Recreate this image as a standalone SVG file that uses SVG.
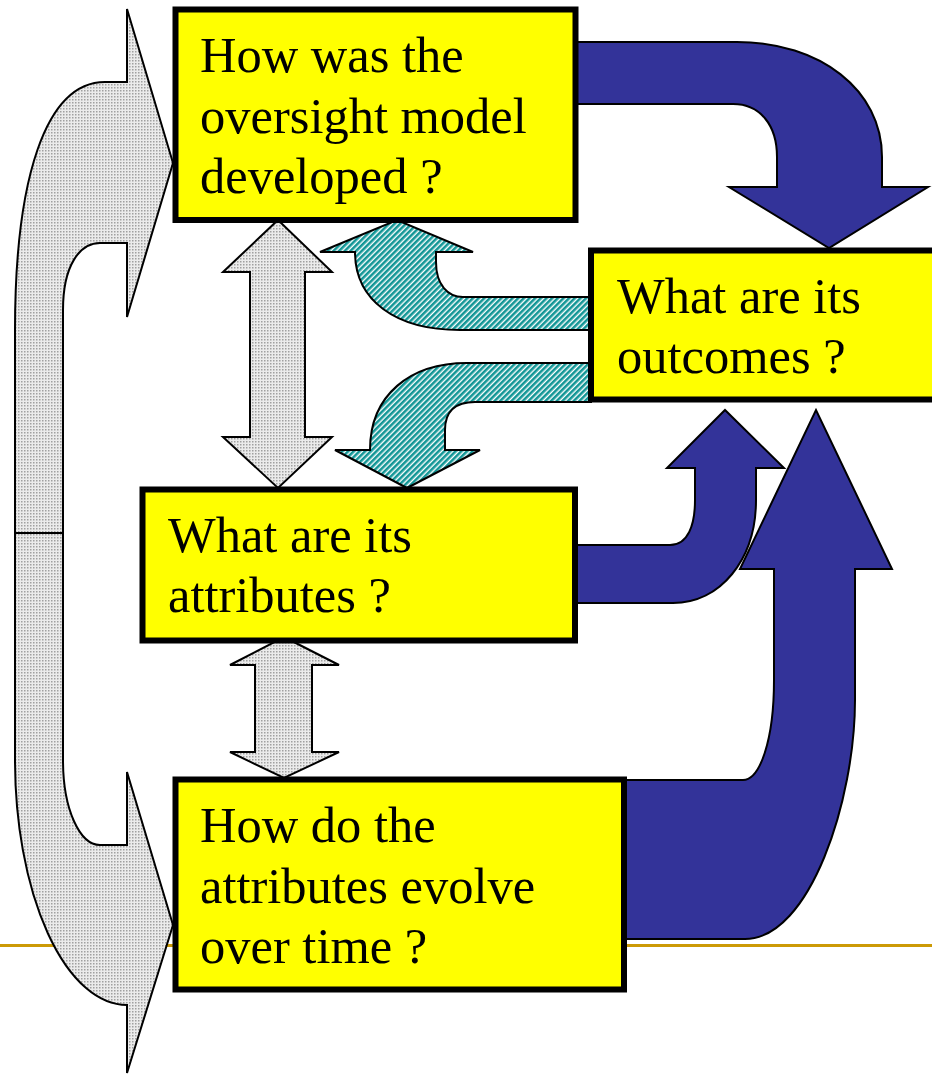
<svg xmlns="http://www.w3.org/2000/svg" width="932" height="1075" viewBox="0 0 932 1075">
  <defs>
    <pattern id="dots" width="3" height="3" patternUnits="userSpaceOnUse">
      <rect width="3" height="3" fill="#ebebeb"/>
      <rect width="1.5" height="1.5" fill="#a0a0a0"/>
    </pattern>
    <pattern id="hatch" width="4" height="4" patternUnits="userSpaceOnUse" patternTransform="rotate(45)">
      <rect width="4" height="4" fill="#ffffff"/>
      <rect width="2.6" height="4" fill="#129696"/>
    </pattern>
    <style>
      .box { fill: #ffff00; stroke: #000000; stroke-width: 6; }
      .lbl { font-family: "Liberation Serif", "Times New Roman", serif; font-size: 50.5px; fill: #000000; }
      .gray { fill: url(#dots); stroke: #000000; stroke-width: 2; stroke-linejoin: miter; }
      .teal { fill: url(#hatch); stroke: #000000; stroke-width: 2; }
      .blue { fill: #333399; stroke: #000000; stroke-width: 2; }
    </style>
  </defs>
  <rect width="932" height="1075" fill="#ffffff"/>
  <line x1="0" y1="945.5" x2="932" y2="945.5" stroke="#cc9a06" stroke-width="3"/>

  <g id="connectors">
    <!-- big left curved gray arrow -->
    <path class="gray" d="M127,82 L105,82 C45,82 15,180 15,330 L15,760 A112,245 0 0 0 127,1005 L127,1073 L173,925 L127,772 L127,845 L100,845 C80,845 63,810 63,760 L63,310 C63,265 80,243 100,243 L127,243 L127,317 L173,163 L127,9 Z"/>
    <line x1="15" y1="533" x2="63" y2="533" stroke="#000" stroke-width="2"/>
    <!-- gray double arrows -->
    <path class="gray" d="M278,220 L332,272 L305,272 L305,437 L332,437 L278,488 L223,437 L250,437 L250,272 L223,272 Z"/>
    <path class="gray" d="M284,637 L339,665 L312,665 L312,752 L339,752 L284,778 L230,752 L255,752 L255,665 L230,665 Z"/>
    <!-- teal arrows -->
    <path class="teal" d="M591,297 L463,297 C448,297 436,285 436,262 L436,252 L473,252 L397,220 L320,252 L355,252 C355,300 395,330 460,330 L591,330 Z"/>
    <path class="teal" d="M591,363 L467,363 C410,363 370,395 370,450 L335,450 L407,488 L480,450 L445,450 L445,430 C445,412 455,402 475,402 L591,402 Z"/>
    <!-- blue arrows -->
    <path class="blue" d="M575,42 L737,42 C820,42 882,90 882,157 L882,187 L928,187 L829,248 L729,187 L777,187 L777,157 C777,125 760,104 733,104 L575,104 Z"/>
    <path class="blue" d="M575,545 L670,545 C688,545 695,525 695,500 L695,468 L667,468 L725,410 L784,468 L756,468 L756,500 C756,560 720,603 673,603 L575,603 Z"/>
    <path class="blue" d="M624,780 L743,780 C760,780 774,740 774,680 L774,569 L740,569 L816,410 L892,569 L855,569 L855,700 C855,800 810,939 745,939 L624,939 Z"/>
  </g>

  <g id="node-developed">
    <rect class="box" x="175.5" y="9.5" width="400" height="210.5"/>
    <text class="lbl" x="200" y="72">How was the</text>
    <text class="lbl" x="200" y="133">oversight model</text>
    <text class="lbl" x="200" y="193">developed ?</text>
  </g>
  <g id="node-outcomes">
    <rect class="box" x="591" y="250.5" width="350" height="149"/>
    <text class="lbl" x="617" y="313">What are its</text>
    <text class="lbl" x="617" y="373">outcomes ?</text>
  </g>
  <g id="node-attributes">
    <rect class="box" x="142.5" y="489.5" width="432.5" height="151"/>
    <text class="lbl" x="168" y="552">What are its</text>
    <text class="lbl" x="168" y="612">attributes ?</text>
  </g>
  <g id="node-evolve">
    <rect class="box" x="175.5" y="779.5" width="448.5" height="210"/>
    <text class="lbl" x="200" y="842">How do the</text>
    <text class="lbl" x="200" y="903">attributes evolve</text>
    <text class="lbl" x="200" y="963">over time ?</text>
  </g>
</svg>
